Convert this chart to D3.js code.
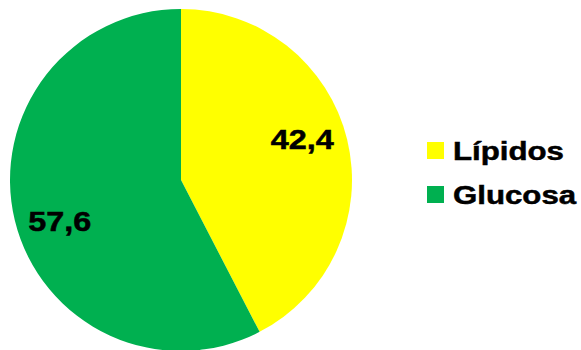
<!DOCTYPE html>
<html>
<head>
<meta charset="utf-8">
<script src="https://cdn.jsdelivr.net/npm/d3@7"></script>
<style>
  html, body { margin: 0; padding: 0; background: #fff; overflow: hidden; }
  text { font-family: "Liberation Sans", Arial, sans-serif; font-weight: bold; fill: #000; stroke: #000; stroke-width: 0.5px; }
</style>
</head>
<body>
<svg id="chart"></svg>
<script>
const categories = ["Lípidos", "Glucosa"];
const values = [42.4, 57.6];
const labels = ["42,4", "57,6"];
const colors = ["#FFFF00", "#00B050"];

const width = 581, height = 350;
const cx = 181, cy = 180, radius = 171;
const STRETCH = 1.2;

const svg = d3.select("#chart")
  .attr("width", width)
  .attr("height", height);

const data = categories.map((c, i) => ({ name: c, value: values[i], label: labels[i], color: colors[i] }));

const pie = d3.pie()
  .value(d => d.value)
  .sort(null);

const arc = d3.arc()
  .innerRadius(0)
  .outerRadius(radius);

const arcs = pie(data);

const g = svg.append("g")
  .attr("transform", `translate(${cx},${cy})`);

g.selectAll("path")
  .data(arcs)
  .enter().append("path")
  .attr("d", arc)
  .attr("fill", d => d.data.color);

// labels sit a little before the middle of each slice (like Excel's best fit)
const labelArc = d3.arc()
  .innerRadius(128)
  .outerRadius(128)
  .startAngle(d => d.startAngle - 0.087)
  .endAngle(d => d.endAngle - 0.087);

function stretch(sel) {
  sel.each(function () {
    const len = this.getComputedTextLength();
    d3.select(this)
      .attr("textLength", len * STRETCH)
      .attr("lengthAdjust", "spacingAndGlyphs");
  });
}

g.selectAll("text.value")
  .data(arcs)
  .enter().append("text")
  .attr("class", "value")
  .attr("x", d => labelArc.centroid(d)[0])
  .attr("y", d => labelArc.centroid(d)[1])
  .attr("dy", "0.36em")
  .style("font-size", "27px")
  .text(d => d.data.label)
  .call(stretch)
  .attr("x", function (d) { return labelArc.centroid(d)[0] - this.getAttribute("textLength") / 2; });

// legend
const legend = svg.append("g")
  .attr("transform", "translate(427,142)");

const item = legend.selectAll("g")
  .data(data)
  .enter().append("g")
  .attr("transform", (d, i) => `translate(0,${i * 44})`);

item.append("rect")
  .attr("width", 17)
  .attr("height", 17)
  .attr("fill", d => d.color);

item.append("text")
  .attr("x", 26)
  .attr("y", 18)
  .style("font-size", "26px")
  .text(d => d.name)
  .call(stretch);
</script>
</body>
</html>
